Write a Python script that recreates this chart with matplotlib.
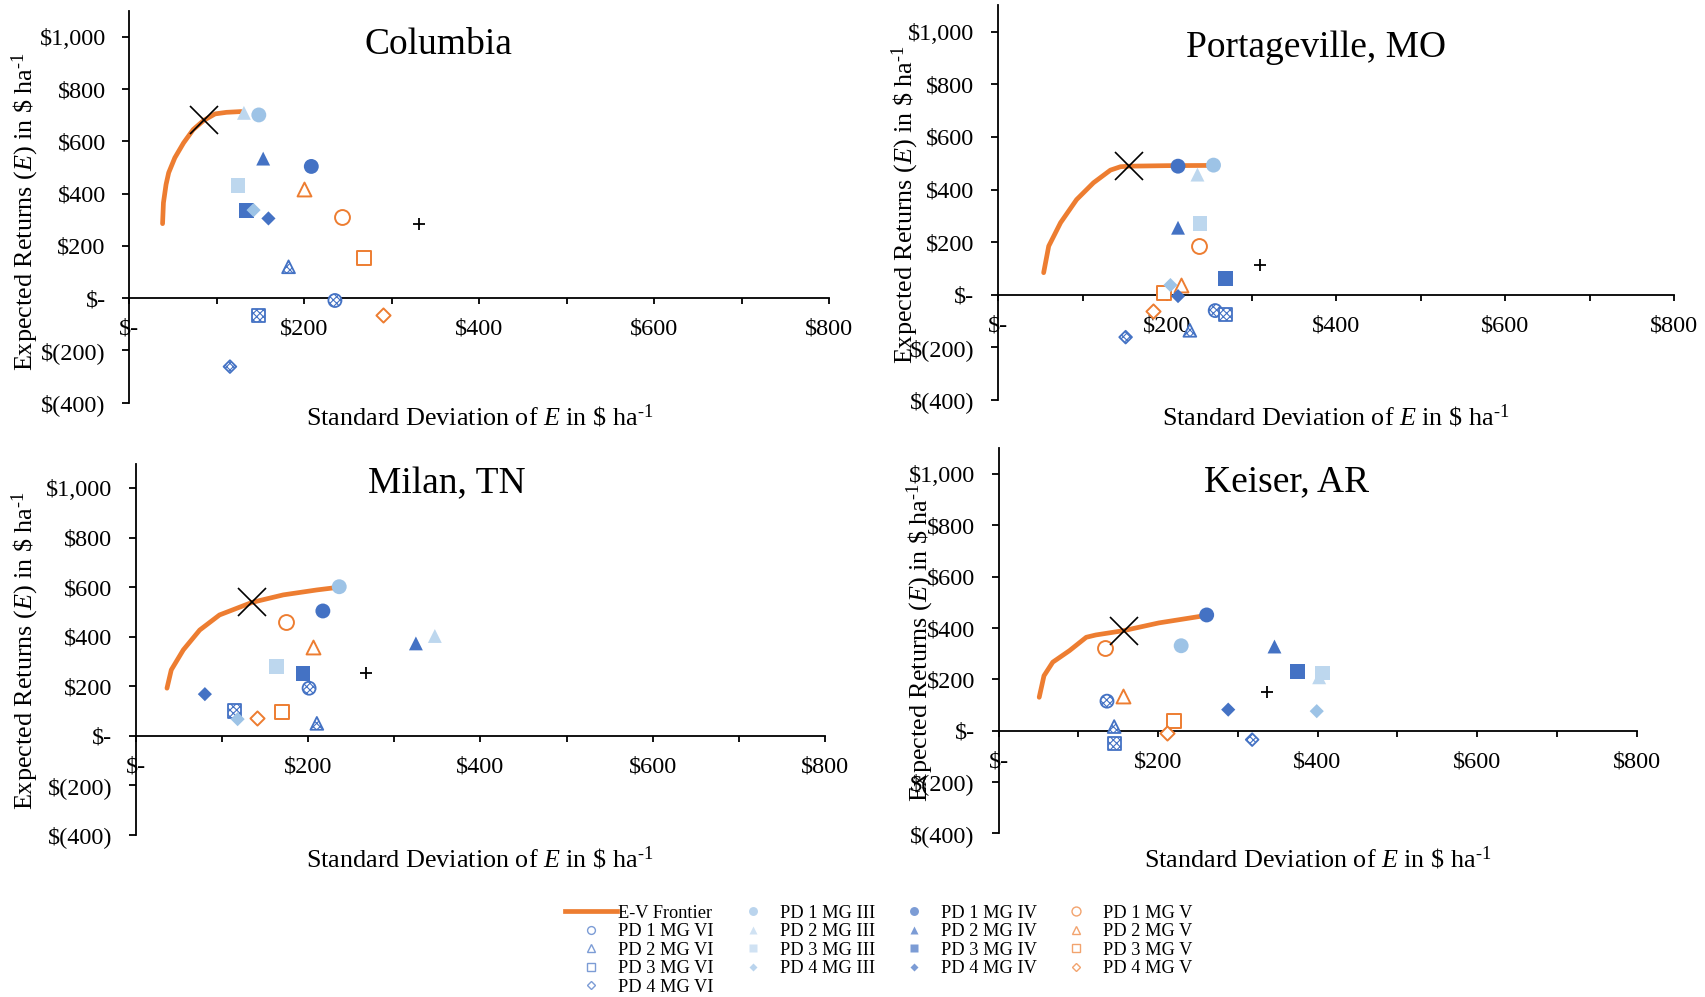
import numpy as np
import matplotlib.pyplot as plt
from matplotlib.lines import Line2D
from matplotlib.ticker import FixedLocator, FuncFormatter

plt.rcParams['font.family'] = ['Liberation Serif', 'DejaVu Serif']
plt.rcParams['mathtext.fontset'] = 'custom'
plt.rcParams['mathtext.rm'] = 'Liberation Serif'
plt.rcParams['mathtext.it'] = 'Liberation Serif:italic'
plt.rcParams['hatch.color'] = '#2E4A86'
plt.rcParams['hatch.linewidth'] = 0.8

sites = ['Columbia', 'Portageville, MO', 'Milan, TN', 'Keiser, AR']

# series in Excel order: PD1 III, PD1 IV, PD1 V, PD1 VI, PD2 III, ... PD4 VI
pds = [1, 2, 3, 4]
mgs = ['III', 'IV', 'V', 'VI']
series = ['PD %d MG %s' % (p, m) for p in pds for m in mgs]

# Columbia
col_fx = [38, 39, 42, 45, 52, 62, 73, 85, 98, 111, 128]
col_fy = [285, 365, 435, 480, 537, 594, 645, 680, 705, 711, 714]
col_sd = [148, 208, 243, 235, 131, 153, 200, 182, 124, 134, 268, 148, 142, 159, 290, 115]
col_ret = [701, 504, 309, -9, 709, 534, 416, 120, 432, 335, 152, -66, 337, 305, -66, -262]
col_opt = [85, 680]
col_plus = [331, 282]

# Portageville, MO
por_fx = [54, 60, 74, 93, 113, 133, 145, 155, 200, 259]
por_fy = [84, 185, 274, 362, 426, 474, 487, 489, 491, 492]
por_sd = [255, 213, 238, 257, 236, 213, 216, 227, 239, 269, 197, 269, 204, 213, 183, 151]
por_ret = [493, 489, 185, -60, 457, 255, 39, -135, 271, 61, 5, -75, 37, -5, -60, -161]
por_opt = [155, 489]
por_plus = [310, 113]

# Milan, TN
mil_fx = [36, 41, 55, 74, 97, 135, 171, 210, 231]
mil_fy = [193, 267, 348, 428, 489, 540, 570, 590, 599]
mil_sd = [236, 217, 174, 201, 347, 325, 206, 210, 163, 194, 169, 114, 118, 80, 140, np.nan]
mil_ret = [603, 505, 462, 193, 404, 374, 358, 51, 280, 253, 98, 101, 68, 169, 72, np.nan]
mil_opt = [135, 540]
mil_plus = [267, 253]

# Keiser, AR
kei_fx = [51, 57, 68, 89, 110, 122, 157, 201, 260]
kei_fy = [130, 214, 267, 312, 364, 373, 390, 420, 449]
kei_sd = [229, 261, 133, 136, 402, 346, 156, 145, 406, 375, 220, 145, 399, 288, 211, 318]
kei_ret = [331, 451, 321, 115, 208, 328, 137, 16, 225, 230, 39, -49, 76, 82, -9, -35]
kei_opt = [157, 390]
kei_plus = [337, 150]

frontiers = [(col_fx, col_fy), (por_fx, por_fy), (mil_fx, mil_fy), (kei_fx, kei_fy)]
points = [(col_sd, col_ret), (por_sd, por_ret), (mil_sd, mil_ret), (kei_sd, kei_ret)]
optima = [col_opt, por_opt, mil_opt, kei_opt]
pluses = [col_plus, por_plus, mil_plus, kei_plus]

# layout (figure fractions) and label placement (axes fractions)
rects = [[0.0758, 0.5961, 0.4103, 0.3932],
         [0.5850, 0.5988, 0.3963, 0.3957],
         [0.0797, 0.1625, 0.4039, 0.3724],
         [0.5853, 0.1642, 0.3740, 0.3860]]
title_pos = [(0.442, 0.914), (0.471, 0.893), (0.451, 0.946), (0.452, 0.913)]
ylab_pos = [(-0.149, 0.487), (-0.137, 0.496), (-0.161, 0.498), (-0.123, 0.497)]
xlab_pos = [(0.5, -0.036), (0.5, -0.043), (0.499, -0.063), (0.5, -0.065)]

BLUE = '#4472C4'
ORANGE = '#ED7D31'
light = {1: '#9DC3E6', 2: '#BDD7EE', 3: '#BDD7EE', 4: '#9DC3E6'}
shape = {1: 'o', 2: '^', 3: 's', 4: 'D'}
size = {'o': 115, '^': 100, 's': 110, 'D': 52}
vi_size = {'o': 88, '^': 85, 's': 90, 'D': 42}


def style(p, m):
    mk = shape[p]
    if m == 'III':
        return dict(marker=mk, s=size[mk], facecolors=light[p], edgecolors='none')
    if m == 'IV':
        return dict(marker=mk, s=size[mk], facecolors=BLUE, edgecolors='none')
    if m == 'V':
        return dict(marker=mk, s=size[mk], facecolors='white', edgecolors=ORANGE, linewidths=1.4)
    return dict(marker=mk, s=vi_size[mk], facecolors='white', edgecolors=BLUE,
                linewidths=1.3, hatch='xxxxx')


def money(v, pos):
    if v == 0:
        return '$-'
    if v < 0:
        return '$(%s)' % format(int(-v), ',')
    return '$' + format(int(v), ',')


unit = 'in \\$ ha$^{\u2010 1}$'

fig = plt.figure(figsize=(17.06, 9.97), dpi=100)

for k in range(4):
    ax = fig.add_axes(rects[k])
    fx, fy = frontiers[k]
    ax.plot(fx, fy, color=ORANGE, lw=3.4, solid_capstyle='round', zorder=2)
    sd, ret = points[k]
    i = 0
    for p in pds:
        for m in mgs:
            ax.scatter([sd[i]], [ret[i]], zorder=3, **style(p, m))
            i += 1
    ax.plot([optima[k][0]], [optima[k][1]], marker='x', ms=20, mew=1.2,
            color='black', ls='none', zorder=4)
    ax.plot([pluses[k][0]], [pluses[k][1]], marker='+', ms=8, mew=1.3,
            color='black', ls='none', zorder=4)

    ax.set_xlim(0, 800)
    ax.set_ylim(-400, 1100)
    for s in ['top', 'right']:
        ax.spines[s].set_visible(False)
    ax.spines['bottom'].set_position(('data', 0))
    ax.spines['left'].set_linewidth(1.3)
    ax.spines['bottom'].set_linewidth(1.3)
    ax.xaxis.set_major_locator(FixedLocator([0, 200, 400, 600, 800]))
    ax.xaxis.set_minor_locator(FixedLocator([100, 300, 500, 700]))
    ax.yaxis.set_major_locator(FixedLocator(np.arange(-400, 1001, 200)))
    ax.xaxis.set_major_formatter(FuncFormatter(money))
    ax.yaxis.set_major_formatter(FuncFormatter(money))
    ax.tick_params(axis='x', which='both', direction='out', length=4, width=1.3,
                   labelsize=17.5, pad=11)
    ax.tick_params(axis='y', direction='out', length=5, width=1.3,
                   labelsize=17.5, pad=12)
    ax.set_xlabel(r'Standard Deviation of $\mathit{E}$ ' + unit, fontsize=18.8)
    ax.xaxis.set_label_coords(*xlab_pos[k])
    ax.xaxis.label.set_va('center')
    ax.set_ylabel(r'Expected Returns ($\mathit{E}$) ' + unit, fontsize=18.8)
    ax.yaxis.set_label_coords(*ylab_pos[k])
    ax.yaxis.label.set_va('center')
    ax.text(title_pos[k][0], title_pos[k][1], sites[k], transform=ax.transAxes,
            ha='center', va='center', fontsize=27)
    ax.patch.set_alpha(0)

# legend, laid out to match the row-major Excel legend
handles = {'E-V Frontier': Line2D([], [], color=ORANGE, lw=3.4)}
for p in pds:
    for m in mgs:
        st = style(p, m)
        handles['PD %d MG %s' % (p, m)] = Line2D(
            [], [], ls='none', marker=st['marker'],
            ms=np.sqrt(st['s']) * 0.6,
            markerfacecolor=st['facecolors'], markeredgecolor=st['edgecolors'],
            markeredgewidth=1.0, alpha=0.7)
order = ['E-V Frontier'] + ['PD %d MG VI' % p for p in pds] + \
        ['PD %d MG %s' % (p, m) for m in ['III', 'IV', 'V'] for p in pds]
fig.legend([handles[n] for n in order], order, loc='center',
           bbox_to_anchor=(0.515, 0.047), ncol=4, frameon=False, fontsize=13.2,
           handlelength=2.84, handletextpad=0.05, columnspacing=0.7,
           labelspacing=0.08, borderpad=0.1)

fig.savefig('out.png', dpi=100)
